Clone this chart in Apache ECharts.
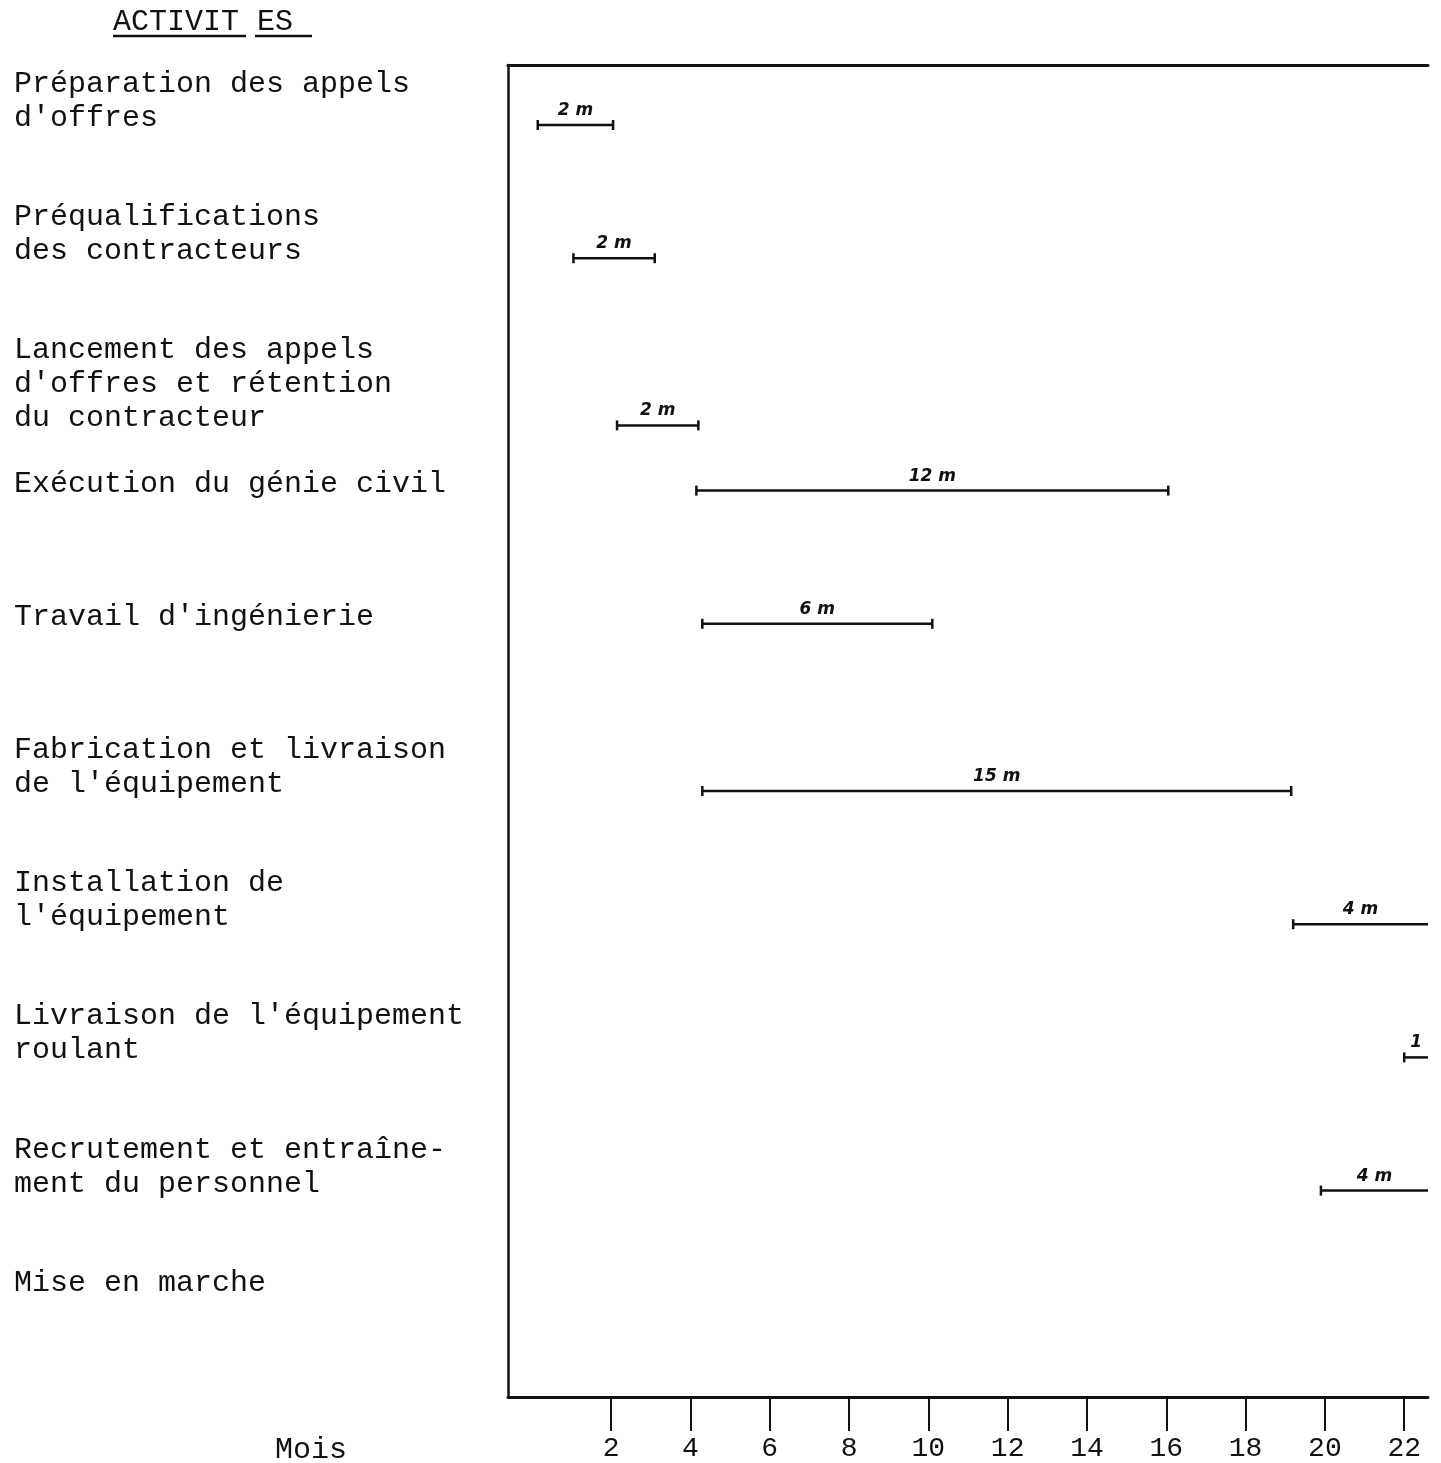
<!DOCTYPE html>
<html>
<head>
<meta charset="utf-8">
<script src="https://cdn.jsdelivr.net/npm/echarts@6/dist/echarts.min.js"></script>
<style>
  html, body { margin: 0; padding: 0; background: #fff; }
  #chart { width: 1441px; height: 1463px; }
</style>
</head>
<body>
<div id="chart"></div>
<script>
// activités (one row each, top to bottom)
var activities = [
  "Préparation des appels\nd'offres",
  "Préqualifications\ndes contracteurs",
  "Lancement des appels\nd'offres et rétention\ndu contracteur",
  "Exécution du génie civil",
  "Travail d'ingénierie",
  "Fabrication et livraison\nde l'équipement",
  "Installation de\nl'équipement",
  "Livraison de l'équipement\nroulant",
  "Recrutement et entraîne-\nment du personnel",
  "Mise en marche"
];

// start / end of each activity, in months
var startMonths = [0.15, 1.05, 2.15, 4.15, 4.3, 4.3, 19.2, 22.0, 19.9, null];
var endMonths = [2.05, 3.1, 4.2, 16.05, 10.1, 19.15, 23.2, 23.0, 23.9, null];
var durationLabels = ['2 m', '2 m', '2 m', '12 m', '6 m', '15 m', '4 m', '1', '4 m', ''];

var monthTicks = [2, 4, 6, 8, 10, 12, 14, 16, 18, 20, 22];

var LINE_H = 34;   // line height of the activity labels
var BAR_DROP = 9;  // bar sits just under the last line of its label
var INK = '#111';
var MONO = '"Liberation Mono", "DejaVu Sans Mono", monospace';

var myChart = echarts.init(document.getElementById('chart'));

var barData = [];
for (var i = 0; i < activities.length; i++) {
  if (startMonths[i] == null) continue;
  barData.push([startMonths[i], endMonths[i], i]);
}

function renderBar(params, api) {
  var row = api.value(2);
  var p0 = api.coord([api.value(0), row]);
  var p1 = api.coord([api.value(1), row]);
  var cs = params.coordSys;
  var right = cs.x + cs.width;
  var nLines = activities[row].split('\n').length;
  var y = p0[1] + LINE_H / 2 + (nLines - 1) * LINE_H + BAR_DROP;
  var x0 = p0[0];
  var x1 = Math.min(p1[0], right);
  var style = { stroke: INK, lineWidth: 2.5 };
  var children = [
    { type: 'line', shape: { x1: x0, y1: y, x2: x1, y2: y }, style: style },
    { type: 'line', shape: { x1: x0, y1: y - 5, x2: x0, y2: y + 5 }, style: style }
  ];
  if (p1[0] <= right) {
    children.push({ type: 'line', shape: { x1: x1, y1: y - 5, x2: x1, y2: y + 5 }, style: style });
  }
  children.push({
    type: 'text',
    style: {
      x: (x0 + x1) / 2, y: y - 6,
      text: durationLabels[row],
      fill: INK,
      font: 'italic bold 17px "DejaVu Sans"',
      align: 'center', verticalAlign: 'bottom'
    }
  });
  return { type: 'group', children: children };
}

var option = {
  backgroundColor: '#fff',
  animation: false,
  grid: { left: 508, right: 13, top: 65, bottom: 65 },
  xAxis: [{
    type: 'value',
    position: 'bottom',
    min: -0.6,
    max: 22.6,
    axisLine: { show: true, onZero: false, lineStyle: { color: INK, width: 3 } },
    axisTick: { show: true, customValues: monthTicks, length: 34, lineStyle: { color: INK, width: 2 } },
    axisLabel: {
      customValues: monthTicks,
      margin: 38,
      color: INK,
      fontFamily: MONO,
      fontSize: 28
    },
    splitLine: { show: false }
  }, {
    type: 'value',
    position: 'top',
    min: -0.6,
    max: 22.6,
    axisLine: { show: true, onZero: false, lineStyle: { color: INK, width: 3 } },
    axisTick: { show: false },
    axisLabel: { show: false },
    splitLine: { show: false }
  }],
  yAxis: {
    type: 'value',
    inverse: true,
    min: 0,
    max: 10,
    axisLine: { show: true, onZero: false, lineStyle: { color: INK, width: 2.5 } },
    axisTick: { show: false },
    splitLine: { show: false },
    axisLabel: {
      customValues: [0, 1, 2, 3, 4, 5, 6, 7, 8, 9],
      formatter: function (v) { return activities[Math.round(v)]; },
      align: 'left',
      verticalAlign: 'top',
      margin: 494,
      padding: [2, 0, 0, 0],
      color: INK,
      fontFamily: MONO,
      fontSize: 30,
      lineHeight: LINE_H
    }
  },
  graphic: [
    {
      type: 'text', left: 113, top: 7,
      style: { text: 'ACTIVIT', fill: INK, font: '30px ' + MONO }
    },
    {
      type: 'text', left: 257, top: 7,
      style: { text: 'ES', fill: INK, font: '30px ' + MONO }
    },
    { type: 'line', shape: { x1: 113, y1: 36, x2: 246, y2: 36 }, style: { stroke: INK, lineWidth: 2.5 } },
    { type: 'line', shape: { x1: 255, y1: 36, x2: 312, y2: 36 }, style: { stroke: INK, lineWidth: 2.5 } },
    {
      type: 'text', left: 275, top: 1435,
      style: { text: 'Mois', fill: INK, font: '30px ' + MONO }
    }
  ],
  series: [{
    type: 'custom',
    renderItem: renderBar,
    encode: { x: [0, 1], y: 2 },
    data: barData
  }]
};

myChart.setOption(option);
</script>
</body>
</html>
